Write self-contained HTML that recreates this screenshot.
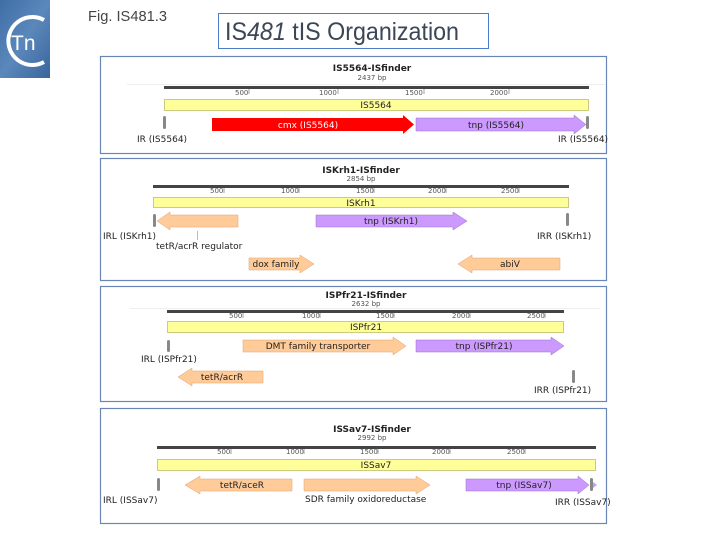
<!DOCTYPE html>
<html><head><meta charset="utf-8"><style>
html,body{margin:0;padding:0;background:#fff;}
body{width:720px;height:540px;overflow:hidden;position:relative;font-family:"Liberation Sans",sans-serif;}
svg text{font-family:"DejaVu Sans","Liberation Sans",sans-serif;}
</style></head><body>
<svg width="720" height="540" viewBox="0 0 720 540" xmlns="http://www.w3.org/2000/svg">
<defs>
<linearGradient id="lg" x1="0" y1="0" x2="1" y2="1">
<stop offset="0" stop-color="#3f6ea6"/><stop offset="0.5" stop-color="#5b88bb"/><stop offset="1" stop-color="#3a659c"/>
</linearGradient>
</defs>
<rect x="0" y="0" width="50" height="78" fill="url(#lg)"/>
<path d="M44 20 A24 24 0 1 0 44 62" fill="none" stroke="#fff" stroke-width="4"/>
<text x="11" y="50" font-size="21" fill="#fff" style="font-family:'Liberation Sans',sans-serif">Tn</text>
<text x="88" y="21" font-size="15" fill="#444" textLength="79" lengthAdjust="spacingAndGlyphs" style="font-family:'Liberation Sans',sans-serif">Fig. IS481.3</text>
<rect x="218.5" y="13.5" width="270" height="35" fill="#fff" stroke="#4a7cc8" stroke-width="1"/>
<text x="225" y="40" font-size="25" fill="#3b4656" textLength="234" lengthAdjust="spacingAndGlyphs" style="font-family:'Liberation Sans',sans-serif">IS<tspan font-style="italic">481</tspan> tIS Organization</text>

<g fill="none" stroke="#6a86b6" stroke-width="1.2">
<rect x="100.5" y="56.5" width="506" height="97"/>
<rect x="100.5" y="158.5" width="506" height="122"/>
<rect x="100.5" y="286.5" width="506" height="115"/>
<rect x="100.5" y="408.5" width="506" height="115"/>
</g>

<!-- Panel 1 -->
<g font-size="9" fill="#222">
<text x="372" y="71" text-anchor="middle" font-weight="bold" font-size="9">IS5564-ISfinder</text>
<text x="372" y="80" text-anchor="middle" font-size="7" fill="#555">2437 bp</text>
<line x1="127" y1="84.5" x2="605" y2="84.5" stroke="#eee"/>
<rect x="164" y="86" width="425" height="3" fill="#444"/>
<g font-size="7" fill="#555"><text x="235" y="95">500</text><text x="319" y="95">1000</text><text x="405" y="95">1500</text><text x="490" y="95">2000</text></g>
<g stroke="#777" stroke-width="0.7"><line x1="249" y1="89" x2="249" y2="94"/><line x1="338" y1="89" x2="338" y2="94"/><line x1="424" y1="89" x2="424" y2="94"/><line x1="509" y1="89" x2="509" y2="94"/></g>
<rect x="164.5" y="99.5" width="424" height="11" fill="#ffff99" stroke="#cccc80"/>
<text x="376" y="108" text-anchor="middle">IS5564</text>
<polygon points="212,118 403,118 403,115 414,124.5 403,134 403,131 212,131" fill="#ff0000"/>
<text x="308" y="128" text-anchor="middle" fill="#fff">cmx (IS5564)</text>
<polygon points="416,118 574,118 574,115 586,124.5 574,134 574,131 416,131" fill="#cc99ff" stroke="#9a70cc" stroke-width="0.5"/>
<text x="496" y="128" text-anchor="middle">tnp (IS5564)</text>
<rect x="163" y="116" width="3" height="13" rx="1.5" fill="#888"/>
<rect x="586" y="116" width="3" height="13" rx="1.5" fill="#888"/>
<text x="137" y="142">IR (IS5564)</text>
<text x="558" y="142">IR (IS5564)</text>
</g>

<!-- Panel 2 -->
<g font-size="9" fill="#222">
<text x="361" y="173" text-anchor="middle" font-weight="bold">ISKrh1-ISfinder</text>
<text x="361" y="181" text-anchor="middle" font-size="7" fill="#555">2854 bp</text>
<rect x="153" y="185" width="416" height="3" fill="#444"/>
<g font-size="7" fill="#555"><text x="210" y="193">500</text><text x="281" y="193">1000</text><text x="356" y="193">1500</text><text x="428" y="193">2000</text><text x="501" y="193">2500</text></g>
<g stroke="#777" stroke-width="0.7"><line x1="224" y1="188" x2="224" y2="193"/><line x1="299" y1="188" x2="299" y2="193"/><line x1="374" y1="188" x2="374" y2="193"/><line x1="446" y1="188" x2="446" y2="193"/><line x1="519" y1="188" x2="519" y2="193"/></g>
<rect x="153.5" y="197.5" width="415" height="10" fill="#ffff99" stroke="#cccc80"/>
<text x="361" y="206" text-anchor="middle">ISKrh1</text>
<polygon points="238,215 170,215 170,212 157,221 170,230 170,227 238,227" fill="#ffcc99" stroke="#e0a070" stroke-width="0.5"/>
<polygon points="316,215 453,215 453,212 467,221 453,230 453,227 316,227" fill="#cc99ff" stroke="#9a70cc" stroke-width="0.5"/>
<text x="391" y="224" text-anchor="middle">tnp (ISKrh1)</text>
<rect x="153" y="214" width="3" height="13" rx="1.5" fill="#888"/>
<rect x="566" y="213" width="3" height="13" rx="1.5" fill="#888"/>
<line x1="197.5" y1="231" x2="197.5" y2="240" stroke="#bbb"/>
<text x="103" y="239">IRL (ISKrh1)</text>
<text x="156" y="249">tetR/acrR regulator</text>
<text x="537" y="239">IRR (ISKrh1)</text>
<polygon points="249,258 300,258 300,255 314,264 300,273 300,270 249,270" fill="#ffcc99" stroke="#e0a070" stroke-width="0.5"/>
<text x="276" y="267" text-anchor="middle">dox family</text>
<polygon points="560,258 472,258 472,255 458,264 472,273 472,270 560,270" fill="#ffcc99" stroke="#e0a070" stroke-width="0.5"/>
<text x="510" y="267" text-anchor="middle">abiV</text>
</g>

<!-- Panel 3 -->
<g font-size="9" fill="#222">
<text x="366" y="298" text-anchor="middle" font-weight="bold">ISPfr21-ISfinder</text>
<text x="366" y="306" text-anchor="middle" font-size="7" fill="#555">2632 bp</text>
<line x1="130" y1="308.5" x2="600" y2="308.5" stroke="#eee"/>
<rect x="167" y="310" width="397" height="3" fill="#444"/>
<g font-size="7" fill="#555"><text x="229" y="318">500</text><text x="302" y="318">1000</text><text x="376" y="318">1500</text><text x="452" y="318">2000</text><text x="527" y="318">2500</text></g>
<g stroke="#777" stroke-width="0.7"><line x1="243" y1="313" x2="243" y2="318"/><line x1="320" y1="313" x2="320" y2="318"/><line x1="394" y1="313" x2="394" y2="318"/><line x1="470" y1="313" x2="470" y2="318"/><line x1="545" y1="313" x2="545" y2="318"/></g>
<rect x="167.5" y="321.5" width="396" height="11" fill="#ffff99" stroke="#cccc80"/>
<text x="366" y="330" text-anchor="middle">ISPfr21</text>
<polygon points="243,340 393,340 393,337 406,346 393,355 393,352 243,352" fill="#ffcc99" stroke="#e0a070" stroke-width="0.5"/>
<text x="318" y="349" text-anchor="middle">DMT family transporter</text>
<polygon points="416,340 551,340 551,337 564,346 551,355 551,352 416,352" fill="#cc99ff" stroke="#9a70cc" stroke-width="0.5"/>
<text x="484" y="349" text-anchor="middle">tnp (ISPfr21)</text>
<rect x="167" y="340" width="3" height="12" rx="1.5" fill="#888"/>
<text x="141" y="362">IRL (ISPfr21)</text>
<polygon points="263,371 192,371 192,368 178,377 192,386 192,383 263,383" fill="#ffcc99" stroke="#e0a070" stroke-width="0.5"/>
<text x="222" y="380" text-anchor="middle">tetR/acrR</text>
<rect x="572" y="370" width="3" height="13" rx="1.5" fill="#888"/>
<text x="534" y="393">IRR (ISPfr21)</text>
</g>

<!-- Panel 4 -->
<g font-size="9" fill="#222">
<text x="372" y="432" text-anchor="middle" font-weight="bold">ISSav7-ISfinder</text>
<text x="372" y="440" text-anchor="middle" font-size="7" fill="#555">2992 bp</text>
<rect x="157" y="446" width="439" height="3" fill="#444"/>
<g font-size="7" fill="#555"><text x="217" y="454">500</text><text x="286" y="454">1000</text><text x="360" y="454">1500</text><text x="432" y="454">2000</text><text x="507" y="454">2500</text></g>
<g stroke="#777" stroke-width="0.7"><line x1="231" y1="449" x2="231" y2="454"/><line x1="304" y1="449" x2="304" y2="454"/><line x1="378" y1="449" x2="378" y2="454"/><line x1="450" y1="449" x2="450" y2="454"/><line x1="525" y1="449" x2="525" y2="454"/></g>
<rect x="157.5" y="459.5" width="438" height="11" fill="#ffff99" stroke="#cccc80"/>
<text x="376" y="468" text-anchor="middle">ISSav7</text>
<polygon points="292,479 200,479 200,476 185,485 200,494 200,491 292,491" fill="#ffcc99" stroke="#e0a070" stroke-width="0.5"/>
<text x="242" y="488" text-anchor="middle">tetR/aceR</text>
<polygon points="304,479 416,479 416,476 430,485 416,494 416,491 304,491" fill="#ffcc99" stroke="#e0a070" stroke-width="0.5"/>
<polygon points="466,479 578,479 578,476 589,485 578,494 578,491 466,491" fill="#cc99ff" stroke="#9a70cc" stroke-width="0.5"/>
<text x="524" y="488" text-anchor="middle">tnp (ISSav7)</text>
<rect x="157" y="478" width="3" height="13" rx="1.5" fill="#888"/>
<rect x="590" y="478" width="3" height="13" rx="1.5" fill="#888"/>
<polygon points="593,482 597,485 593,488" fill="#cc99ff"/>
<text x="103" y="503">IRL (ISSav7)</text>
<text x="305" y="502">SDR family oxidoreductase</text>
<text x="555" y="505">IRR (ISSav7)</text>
</g>
</svg>
</body></html>
